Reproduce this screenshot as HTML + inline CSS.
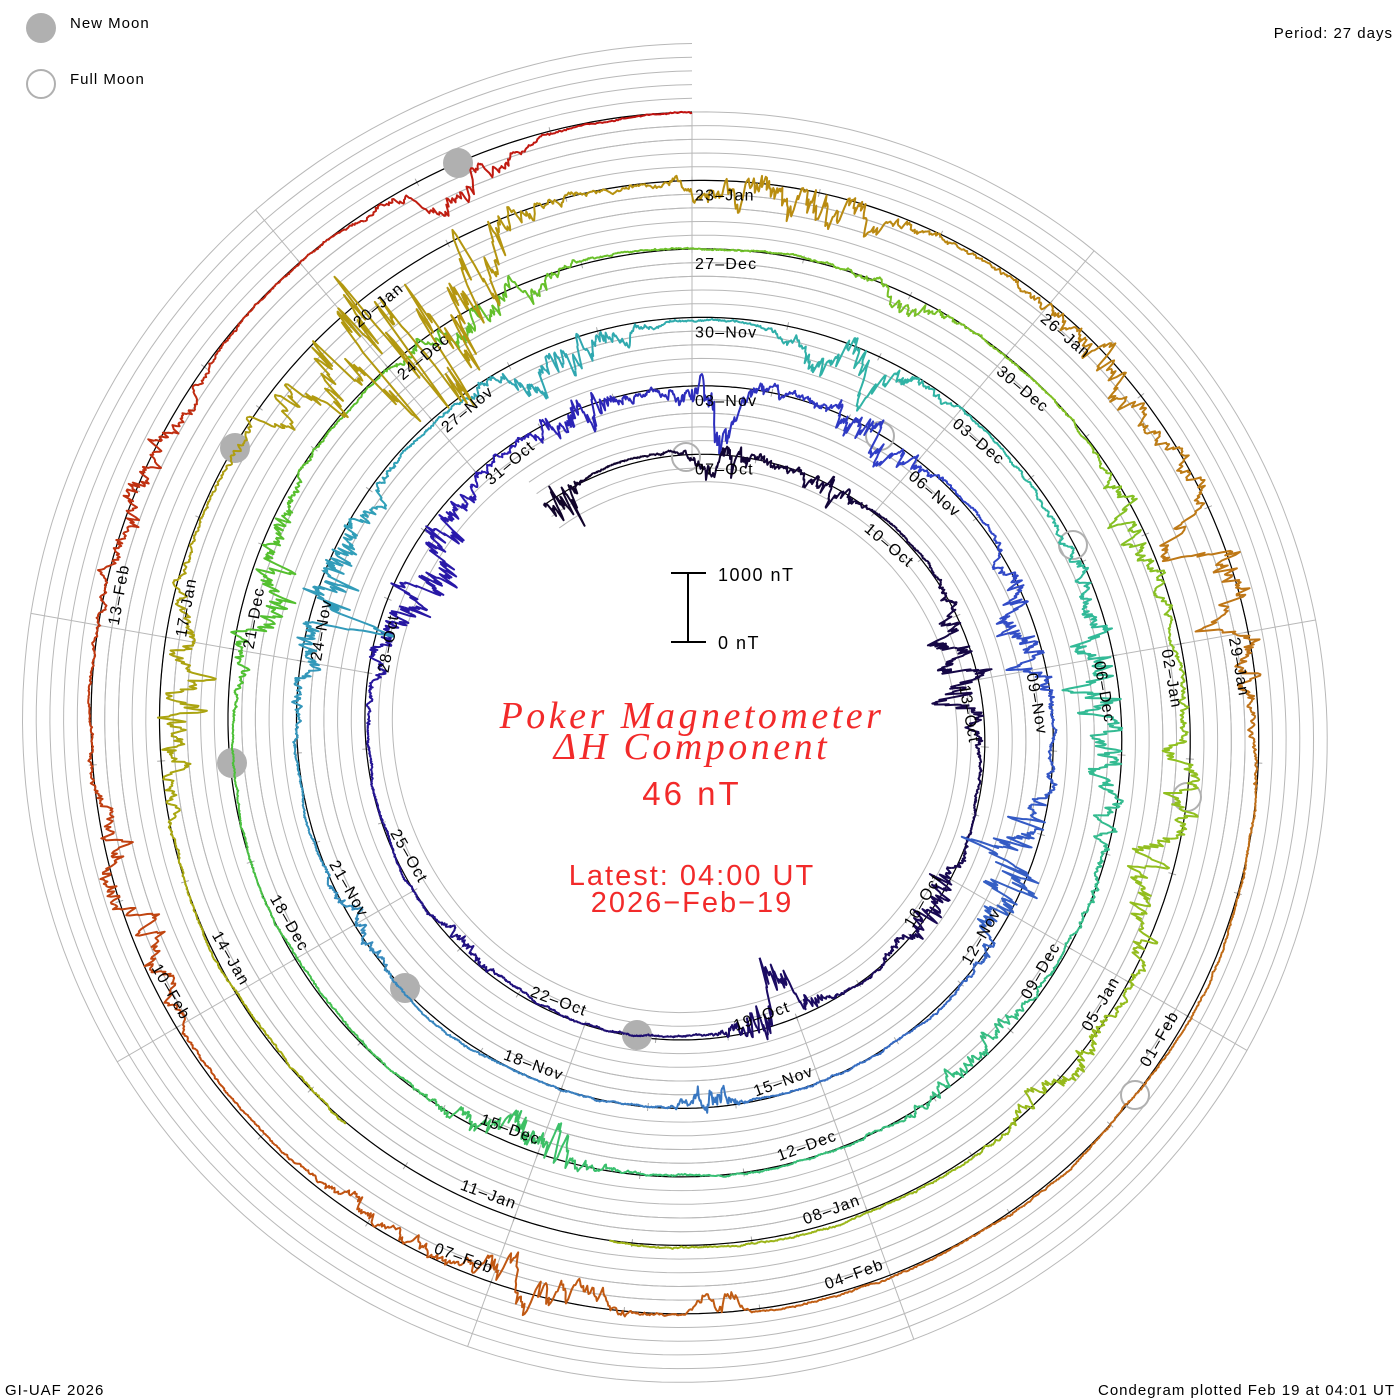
<!DOCTYPE html>
<html><head><meta charset="utf-8"><style>
html,body{margin:0;padding:0;background:#fff;}
svg{display:block;}
text{font-family:"Liberation Sans",sans-serif;}
.lb{font-size:16px;letter-spacing:1.2px;fill:#000;}
.sm{font-size:15px;letter-spacing:1px;fill:#000;}
</style></head><body>
<svg id="s" xmlns="http://www.w3.org/2000/svg" width="1400" height="1400" viewBox="0 0 1400 1400">
<g id="grid"></g>
<g id="base"></g>
<g id="moons">
<circle cx="458" cy="163" r="15" fill="#b0b0b0"/>
<circle cx="235" cy="448" r="15" fill="#b0b0b0"/>
<circle cx="232" cy="763" r="15" fill="#b0b0b0"/>
<circle cx="405" cy="988" r="15" fill="#b0b0b0"/>
<circle cx="637" cy="1035" r="15" fill="#b0b0b0"/>
<circle cx="686" cy="457" r="14" fill="none" stroke="#b0b0b0" stroke-width="2"/>
<circle cx="880" cy="436" r="14" fill="none" stroke="#b0b0b0" stroke-width="2"/>
<circle cx="1073" cy="545" r="14" fill="none" stroke="#b0b0b0" stroke-width="2"/>
<circle cx="1187" cy="797" r="14" fill="none" stroke="#b0b0b0" stroke-width="2"/>
<circle cx="1135" cy="1095" r="14" fill="none" stroke="#b0b0b0" stroke-width="2"/>
</g>
<g id="traces"></g>
<g id="labels">
<g transform="translate(692,730)">
<text class="lb" transform="rotate(0)" x="3" y="-255.5">07–Oct</text>
<text class="lb" transform="rotate(40)" x="3" y="-263.1">10–Oct</text>
<text class="lb" transform="rotate(80)" x="3" y="-270.7">13–Oct</text>
<text class="lb" transform="rotate(-60)" x="-3" y="290.3" text-anchor="end">16–Oct</text>
<text class="lb" transform="rotate(-20)" x="-3" y="297.9" text-anchor="end">19–Oct</text>
<text class="lb" transform="rotate(20)" x="-3" y="305.6" text-anchor="end">22–Oct</text>
<text class="lb" transform="rotate(60)" x="-3" y="313.2" text-anchor="end">25–Oct</text>
<text class="lb" transform="rotate(280)" x="3" y="-308.8">28–Oct</text>
<text class="lb" transform="rotate(320)" x="3" y="-316.4">31–Oct</text>
<text class="lb" transform="rotate(0)" x="3" y="-324.0">03–Nov</text>
<text class="lb" transform="rotate(40)" x="3" y="-331.6">06–Nov</text>
<text class="lb" transform="rotate(80)" x="3" y="-339.2">09–Nov</text>
<text class="lb" transform="rotate(-60)" x="-3" y="358.8" text-anchor="end">12–Nov</text>
<text class="lb" transform="rotate(-20)" x="-3" y="366.4" text-anchor="end">15–Nov</text>
<text class="lb" transform="rotate(20)" x="-3" y="374.1" text-anchor="end">18–Nov</text>
<text class="lb" transform="rotate(60)" x="-3" y="381.7" text-anchor="end">21–Nov</text>
<text class="lb" transform="rotate(280)" x="3" y="-377.3">24–Nov</text>
<text class="lb" transform="rotate(320)" x="3" y="-384.9">27–Nov</text>
<text class="lb" transform="rotate(0)" x="3" y="-392.5">30–Nov</text>
<text class="lb" transform="rotate(40)" x="3" y="-400.1">03–Dec</text>
<text class="lb" transform="rotate(80)" x="3" y="-407.7">06–Dec</text>
<text class="lb" transform="rotate(-60)" x="-3" y="427.3" text-anchor="end">09–Dec</text>
<text class="lb" transform="rotate(-20)" x="-3" y="435.0" text-anchor="end">12–Dec</text>
<text class="lb" transform="rotate(20)" x="-3" y="442.6" text-anchor="end">15–Dec</text>
<text class="lb" transform="rotate(60)" x="-3" y="450.2" text-anchor="end">18–Dec</text>
<text class="lb" transform="rotate(280)" x="3" y="-445.8">21–Dec</text>
<text class="lb" transform="rotate(320)" x="3" y="-453.4">24–Dec</text>
<text class="lb" transform="rotate(0)" x="3" y="-461.0">27–Dec</text>
<text class="lb" transform="rotate(40)" x="3" y="-468.6">30–Dec</text>
<text class="lb" transform="rotate(80)" x="3" y="-476.2">02–Jan</text>
<text class="lb" transform="rotate(-60)" x="-3" y="495.9" text-anchor="end">05–Jan</text>
<text class="lb" transform="rotate(-20)" x="-3" y="503.5" text-anchor="end">08–Jan</text>
<text class="lb" transform="rotate(20)" x="-3" y="511.1" text-anchor="end">11–Jan</text>
<text class="lb" transform="rotate(60)" x="-3" y="518.7" text-anchor="end">14–Jan</text>
<text class="lb" transform="rotate(280)" x="3" y="-514.3">17–Jan</text>
<text class="lb" transform="rotate(320)" x="3" y="-521.9">20–Jan</text>
<text class="lb" transform="rotate(0)" x="3" y="-529.5">23–Jan</text>
<text class="lb" transform="rotate(40)" x="3" y="-537.1">26–Jan</text>
<text class="lb" transform="rotate(80)" x="3" y="-544.7">29–Jan</text>
<text class="lb" transform="rotate(-60)" x="-3" y="564.4" text-anchor="end">01–Feb</text>
<text class="lb" transform="rotate(-20)" x="-3" y="572.0" text-anchor="end">04–Feb</text>
<text class="lb" transform="rotate(20)" x="-3" y="579.6" text-anchor="end">07–Feb</text>
<text class="lb" transform="rotate(60)" x="-3" y="587.2" text-anchor="end">10–Feb</text>
<text class="lb" transform="rotate(280)" x="3" y="-582.8">13–Feb</text>
</g>
</g>
<g stroke="#000" stroke-width="2">
<line x1="688" y1="573" x2="688" y2="642"/>
<line x1="671" y1="573" x2="706" y2="573"/>
<line x1="671" y1="642" x2="706" y2="642"/>
</g>
<text x="718" y="581" style="font-size:18px;letter-spacing:1.5px">1000 nT</text>
<text x="718" y="649" style="font-size:18px;letter-spacing:1.5px">0 nT</text>
<g fill="#f22a2a" text-anchor="middle">
<text x="692" y="728" style="font-family:'Liberation Serif',serif;font-style:italic;font-size:38px;letter-spacing:3.5px">Poker Magnetometer</text>
<text x="692" y="759" style="font-family:'Liberation Serif',serif;font-style:italic;font-size:38px;letter-spacing:3.5px">ΔH Component</text>
<text x="692" y="805" style="font-size:33px;letter-spacing:3px">46 nT</text>
<text x="692" y="885" style="font-size:29px;letter-spacing:2px">Latest: 04:00 UT</text>
<text x="692" y="912" style="font-size:29px;letter-spacing:2px">2026−Feb−19</text>
</g>
<circle cx="41" cy="28" r="15" fill="#b0b0b0"/>
<circle cx="41" cy="84" r="14" fill="none" stroke="#b0b0b0" stroke-width="2"/>
<text class="sm" x="70" y="28">New Moon</text>
<text class="sm" x="70" y="84">Full Moon</text>
<text class="sm" x="1393" y="38" text-anchor="end">Period: 27 days</text>
<text class="sm" x="5" y="1395">GI-UAF 2026</text>
<text class="sm" x="1395" y="1395" text-anchor="end">Condegram plotted Feb 19 at 04:01 UT</text>
</svg>
<script>
(function(){
var NS="http://www.w3.org/2000/svg",cx=692,cy=730;
function Rb(t){return 275.5+68.5*t/27;}
function P(t,r){var a=t/27*2*Math.PI;return [cx+r*Math.sin(a),cy-r*Math.cos(a)];}
function pl(g,pts,col,w){var e=document.createElementNS(NS,"polyline");
e.setAttribute("points",pts.map(function(p){return p[0].toFixed(1)+","+p[1].toFixed(1);}).join(" "));
e.setAttribute("fill","none");e.setAttribute("stroke",col);e.setAttribute("stroke-width",w);
e.setAttribute("stroke-linejoin","round");document.getElementById(g).appendChild(e);}
var T0=-2.5,T1=135;
for(var k=-2;k<=5;k++){var pts=[];for(var t=T0;t<=T1+1e-9;t+=0.1)pts.push(P(t,Rb(t)+k*13.7));pl("grid",pts,"#b8b8b8",1);}
for(var j=0;j<9;j++){var tf=j*3,tl=(j==0)?135:tf+108;var r1=Rb(tf)-2,r2=(j==0)?Rb(135):Rb(tl)+68.5;
pl("grid",[P(tf,r1),P(tf,r2)],"#b8b8b8",1);}
for(var d=0;d<=134;d++){pl("grid",[P(d,Rb(d)-4),P(d,Rb(d)+4)],"#a8a8a8",1);}
var bp=[];for(var t=T0;t<=T1;t+=0.05)bp.push(P(t,Rb(t)));pl("base",bp,"#000",1.2);
var stops=[[-3,[16,4,40]],[10,[24,8,84]],[24,[42,26,176]],[30,[48,64,200]],[42,[58,128,192]],[50,[48,160,184]],[58,[48,184,160]],[68,[56,192,112]],[75,[80,192,48]],[88,[144,192,32]],[100,[168,168,16]],[108,[184,144,16]],[115,[192,112,24]],[125,[192,80,16]],[135,[192,16,16]]];
function col(t){for(var i=0;i<stops.length-1;i++){if(t<=stops[i+1][0]){var a=stops[i],b=stops[i+1],f=Math.max(0,(t-a[0])/(b[0]-a[0]));
return "rgb("+[0,1,2].map(function(c){return Math.round(a[1][c]+(b[1][c]-a[1][c])*f);}).join(",")+")";}}return "rgb(192,16,16)";}
var s=12345;function rnd(){s|=0;s=s+0x6D2B79F5|0;var t=Math.imul(s^s>>>15,1|s);t=t+Math.imul(t^t>>>7,61|t)^t;return ((t^t>>>14)>>>0)/4294967296;}
var storms=[[-2.2,0.25,40],[0.6,0.6,22],[2.2,0.5,18],[5.8,0.9,34],[9.5,0.7,24],[12.3,0.6,36],[17,0.5,10],[22.5,1.2,38],[25.5,0.6,26],
[27.3,0.6,30],[29.3,0.8,26],[32.5,0.8,30],[35.5,0.9,40],[40.3,0.3,28],[45,0.6,12],[48.8,1.0,40],[52.5,0.8,28],
[55.8,0.7,28],[60.5,1.5,30],[64.5,0.8,16],[69.2,0.7,34],[75.7,0.8,30],[79,0.7,24],
[83,0.5,14],[86,0.6,22],[88.8,1.2,28],[91,0.6,18],[101.5,0.8,36],[105.3,1.0,110],[108.8,0.9,34],
[111.5,0.7,22],[113.5,1.0,32],[122.7,0.6,30],[121.3,0.2,16],[124,0.5,14],[127,0.8,26],[130,0.8,22],[133.2,0.5,20]];
function L(t){var v=0;for(var i=0;i<storms.length;i++){var z=(t-storms[i][0])/storms[i][1];v+=storms[i][2]*Math.exp(-z*z);}return v;}
var x=0,y=0,q=0,dt=0.01,chunk=[],cstart=T0;
for(var t=T0;t<=T1+1e-9;t+=dt){
 x=0.88*x+(rnd()*2-1)*0.55; y=0.96*y+(rnd()*2-1)*0.3; q=0.997*q+(rnd()*2-1)*0.08;
 if(q>1)q=1;if(q<-1)q=-1;
 var l=L(t);
 var dd=q*5+(rnd()*2-1)*0.5+l*(0.4*x-1.1*Math.abs(y));
 if(rnd()<0.004*l/20){dd-=l*rnd()*0.8;}
 var gap=(t>95.2&&t<97.6);
 if(!gap)chunk.push(P(t,Rb(t)+dd));
 if(t-cstart>=0.3||gap){ if(chunk.length>1)pl("traces",chunk,col(cstart+0.15),2);
  var last=chunk.length?chunk[chunk.length-1]:null;chunk=gap?[]:(last?[last]:[]);cstart=t;}
}
if(chunk.length>1)pl("traces",chunk,col(cstart),2);
})();
</script>
</body></html>
